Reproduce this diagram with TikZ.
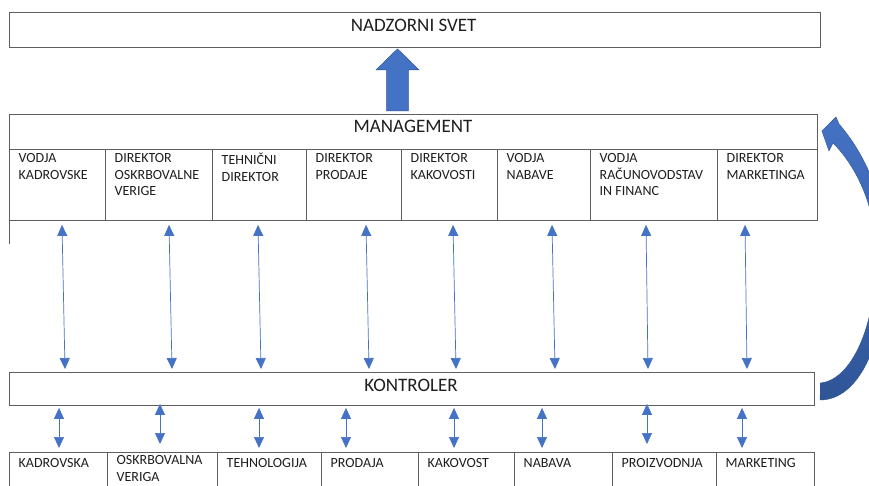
\documentclass[tikz,border=0pt]{standalone}
\usepackage{fontspec}
\setmainfont{Carlito}
\usetikzlibrary{arrows.meta,calc}
\definecolor{frame}{HTML}{5E5E5E}
\definecolor{accent}{HTML}{4472C4}
\definecolor{accentdark}{HTML}{2F5597}
\definecolor{inktext}{HTML}{1E1E1E}
\begin{document}
\begin{tikzpicture}[x=1pt,y=-1pt,
  box/.style={draw=frame, line width=0.9pt, rectangle, inner sep=0pt, anchor=north west},
  celltxt/.style={anchor=north west, inner sep=0pt, align=left, text=inktext,
    font=\fontsize{14}{16.8}\selectfont, execute at begin node={\rule{0pt}{12pt}}},
  headtxt/.style={anchor=base, inner sep=0pt, text=inktext, font=\fontsize{19}{22}\selectfont},
  link/.style={draw=accent, line width=0.7pt,
    {Triangle[length=11pt,width=10pt]}-{Triangle[length=11pt,width=10pt]}},
]
\clip (0,0) rectangle (869,486);
\fill[white] (0,0) rectangle (869,486);

% supervisory board
\node[box, minimum width=811, minimum height=35] (board) at (8.5,12) {};
\node[headtxt] (boardtxt) at (413.7,32) {NADZORNI SVET};

% management header and director cells
\node[box, minimum width=808, minimum height=35] (mgmt) at (9,114) {};
\node[headtxt] (mgmttxt) at (413,133) {MANAGEMENT};
\foreach \i/\xa/\xb/\txt in {
  1/9/105/{VODJA\\KADROVSKE},
  2/105/212/{DIREKTOR\\OSKRBOVALNE\\VERIGE},
  3/212/306/{TEHNIČNI\\DIREKTOR},
  4/306/401/{DIREKTOR\\PRODAJE},
  5/401/497/{DIREKTOR\\KAKOVOSTI},
  6/497/590/{VODJA\\NABAVE},
  7/590/717/{VODJA\\RAČUNOVODSTAV\\IN FINANC},
  8/717/817/{DIREKTOR\\MARKETINGA}} {
  \node[box, minimum width=\xb-\xa, minimum height=71] (m\i) at (\xa,149) {};
  \node[celltxt] (mt\i) at (\xa+9.5,153) {\txt};
}
\draw[frame, line width=0.9pt] (m1.south west) -- ++(0,23);

% controller
\node[box, minimum width=805, minimum height=33.5] (ctl) at (9,371.5) {};
\node[headtxt] (ctltxt) at (411,391) {KONTROLER};

% departments
\foreach \i/\xa/\xb/\txt in {
  1/9/107/{KADROVSKA},
  2/107/217/{OSKRBOVALNA\\VERIGA},
  3/217/321/{TEHNOLOGIJA},
  4/321/418/{PRODAJA},
  5/418/514/{KAKOVOST},
  6/514/612/{NABAVA},
  7/612/716/{PROIZVODNJA},
  8/716/814/{MARKETING}} {
  \node[box, minimum width=\xb-\xa, minimum height=45] (d\i) at (\xa,452) {};
  \node[celltxt] (dt\i) at (\xa+9.5,455) {\txt};
}

% management <-> controller links
\foreach \i/\xl/\xt/\xb in {1/9/62/65, 2/105/169/172, 3/212/258/261, 4/306/366/369,
                            5/401/453/456, 6/497/552/555, 7/590/646/648, 8/717/745/747} {
  \draw[link] ($(ctl.north west)+(\xb-9,-2.5)$) -- ($(m\i.south west)+(\xt-\xl,4)$);
}

% controller <-> department links
\foreach \i/\xl/\x/\ya/\yb in {1/9/59/407/448, 2/107/160/403/444, 3/217/259/407/448,
                               4/321/346/407/448, 5/418/454/407/448, 6/514/542/407/448,
                               7/612/647/403/444, 8/716/742/407/448} {
  \draw[link] ($(d\i.north west)+(\x-\xl,\yb-452)$) -- ($(ctl.south west)+(\x-9,\ya-405)$);
}

% block arrow from management up to the board
\coordinate (upfoot) at ($(mgmt.north west)+(388.5,-3)$);
\filldraw[fill=accent, draw=accentdark, line width=0.5pt]
  ($(upfoot)+(-10.8,0)$) -- ++(0,-41) -- ++(-10.7,0) -- ($(board.south west)+(389,1)$)
  -- ($(upfoot)+(21.5,-41)$) -- ++(-10.7,0) -- ($(upfoot)+(10.8,0)$) -- cycle;

% curved arrow from the controller back to management
\shade[top color=accent, bottom color=accentdark, draw=accentdark, line width=0.4pt]
  ($(ctl.north east)+(5.7,11.5)$)
  .. controls (850,380) and (876,330) .. (876,255)
  .. controls (876,205) and (855,165) .. (833,143)
  -- (829,151) -- ($(mgmt.north east)+(4,17)$) -- (836,117) -- (839,124)
  .. controls (860,148) and (887,195) .. (887,255)
  .. controls (887,340) and (860,400) .. (820,400) -- cycle;
\end{tikzpicture}
\end{document}
